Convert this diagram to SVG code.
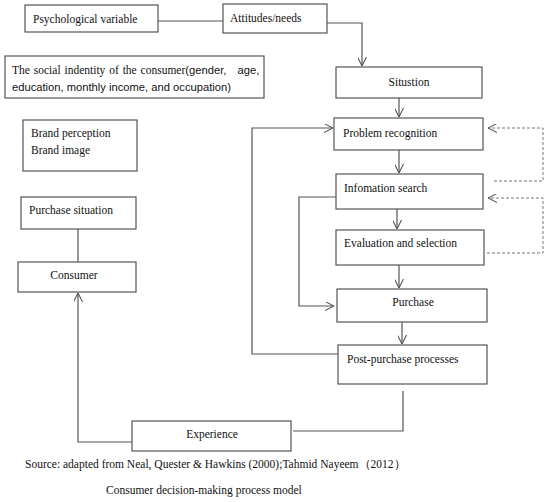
<svg xmlns="http://www.w3.org/2000/svg" width="550" height="502" viewBox="0 0 550 502">
<style>
.box{fill:#fff;stroke:#555;stroke-width:1.2}
.t{font-family:'Liberation Serif','Times New Roman',serif;font-size:11.5px;fill:#111}
.s{font-family:'Liberation Sans',Arial,sans-serif;font-size:11.2px;fill:#111}
.ln{fill:none;stroke:#555;stroke-width:1.2}
.dash{fill:none;stroke:#777;stroke-width:1;stroke-dasharray:3,2}
</style>
<defs>
<marker id="arr" viewBox="0 0 10 10" refX="10" refY="5" markerWidth="9" markerHeight="9" markerUnits="userSpaceOnUse" orient="auto">
<path d="M0,0 L10,5 L0,10" fill="none" stroke="#555" stroke-width="1.2"/>
</marker>
</defs>
<rect width="550" height="502" fill="#fff"/>
<g id="connectors">
<line class="ln" x1="158" y1="21" x2="223" y2="21"/>
<polyline class="ln" points="327,23 362,23 362,66" marker-end="url(#arr)"/>
<line class="ln" x1="399" y1="98" x2="399" y2="117" marker-end="url(#arr)"/>
<line class="ln" x1="399" y1="150" x2="399" y2="173" marker-end="url(#arr)"/>
<line class="ln" x1="397" y1="209" x2="397" y2="229" marker-end="url(#arr)"/>
<line class="ln" x1="399" y1="265" x2="399" y2="288" marker-end="url(#arr)"/>
<line class="ln" x1="402" y1="322" x2="402" y2="344" marker-end="url(#arr)"/>
<polyline class="ln" points="338,354 252,354 252,128 333,128" marker-end="url(#arr)"/>
<polyline class="ln" points="336,197 299,197 299,306 334,306" marker-end="url(#arr)"/>
<polyline class="dash" points="494,181 543,181 543,128 488,128" marker-end="url(#arr)"/>
<polyline class="dash" points="487,253 543,253 543,198 488,198" marker-end="url(#arr)"/>
<line class="ln" x1="78" y1="229" x2="78" y2="262"/>
<polyline class="ln" points="403,391 403,431 293,431"/>
<polyline class="ln" points="132,442 78,442 78,293" marker-end="url(#arr)"/>
</g>
<g id="psychological-variable">
<rect class="box" x="25" y="5" width="133" height="27"/>
<text class="t" x="33" y="23">Psychological variable</text>
</g>
<g id="attitudes-needs">
<rect class="box" x="223" y="4" width="104" height="29"/>
<text class="t" x="230" y="22">Attitudes/needs</text>
</g>
<g id="social-identity">
<rect class="box" x="5" y="56" width="259" height="42"/>
<text x="12" y="74"><tspan class="t" word-spacing="1">The social indentity of the consumer</tspan><tspan class="s" word-spacing="8">(gender, age,</tspan></text>
<text class="s" x="12" y="91">education, monthly income, and occupation)</text>
</g>
<g id="situstion">
<rect class="box" x="336" y="67" width="146" height="31"/>
<text class="t" x="409" y="86" text-anchor="middle">Situstion</text>
</g>
<g id="brand">
<rect class="box" x="23" y="120" width="114" height="51"/>
<text class="t" x="31" y="137">Brand perception</text>
<text class="t" x="31" y="154">Brand image</text>
</g>
<g id="problem-recognition">
<rect class="box" x="334" y="118" width="149" height="32"/>
<text class="t" x="343" y="137">Problem recognition</text>
</g>
<g id="information-search">
<rect class="box" x="336" y="174" width="147" height="35"/>
<text class="t" x="344" y="192">Infomation search</text>
</g>
<g id="purchase-situation">
<rect class="box" x="21" y="197" width="115" height="32"/>
<text class="t" x="29" y="214">Purchase situation</text>
</g>
<g id="evaluation-selection">
<rect class="box" x="336" y="230" width="148" height="35"/>
<text class="t" x="344" y="247">Evaluation and selection</text>
</g>
<g id="consumer">
<rect class="box" x="18" y="262" width="118" height="30"/>
<text class="t" x="74" y="279" text-anchor="middle">Consumer</text>
</g>
<g id="purchase">
<rect class="box" x="337" y="289" width="150" height="33"/>
<text class="t" x="413" y="306" text-anchor="middle">Purchase</text>
</g>
<g id="post-purchase">
<rect class="box" x="338" y="345" width="149" height="39"/>
<text class="t" x="347" y="363">Post-purchase processes</text>
</g>
<g id="experience">
<rect class="box" x="132" y="421" width="159" height="30"/>
<text class="t" x="212" y="438" text-anchor="middle">Experience</text>
</g>
<text class="t" x="25" y="468">Source: adapted from Neal, Quester &amp; Hawkins (2000);Tahmid Nayeem（2012）</text>
<text class="t" x="106" y="494">Consumer decision-making process model</text>
</svg>
